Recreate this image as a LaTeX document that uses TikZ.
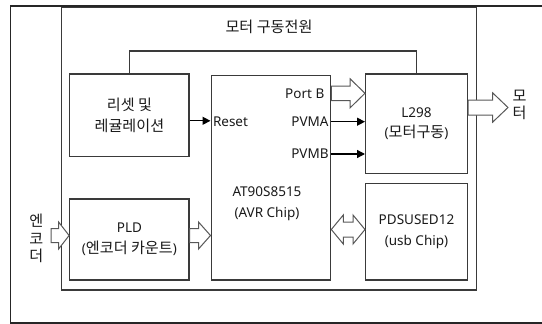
\documentclass[tikz,border=0pt]{standalone}
\usepackage{fontspec}
\setmainfont{Noto Sans}
\newfontfamily\kr[Scale=1.12]{Noto Sans CJK KR}
\usetikzlibrary{arrows.meta,calc}
\definecolor{ln}{HTML}{3A3A3A}
\definecolor{tx}{HTML}{1A1A1A}
\newcommand\rblock[5]{%
  \path[barrow] let \p1=(#1), \p2=(#2) in
  (\x1,{\y1-#3}) -- ({\x2-#5},{\y1-#3}) -- ({\x2-#5},{\y1-#4}) -- (\x2,\y1)
  -- ({\x2-#5},{\y1+#4}) -- ({\x2-#5},{\y1+#3}) -- (\x1,{\y1+#3}) -- cycle;}
\newcommand\dblock[5]{%
  \path[barrow] let \p1=(#1), \p2=(#2) in
  (\x1,\y1) -- ({\x1+#5},{\y1-#4}) -- ({\x1+#5},{\y1-#3}) -- ({\x2-#5},{\y1-#3})
  -- ({\x2-#5},{\y1-#4}) -- (\x2,\y1) -- ({\x2-#5},{\y1+#4}) -- ({\x2-#5},{\y1+#3})
  -- ({\x1+#5},{\y1+#3}) -- ({\x1+#5},{\y1+#4}) -- cycle;}
\begin{document}
\begin{tikzpicture}[x=1pt,y=-1pt,
  box/.style={draw=ln,line width=1.3pt,fill=white,inner sep=0pt,anchor=north west,
    text=tx,font=\fontsize{13.5}{20.5}\selectfont,align=center},
  txt/.style={text=tx,font=\fontsize{13.5}{20.5}\selectfont,inner sep=0pt,align=center},
  barrow/.style={draw=ln!85,line width=1pt,fill=white,line join=miter},
  wire/.style={draw=ln,line width=1.3pt},
  sig/.style={draw=black,line width=1.3pt,-{Triangle[length=8pt,width=8pt]}}
]
\useasboundingbox (0,0) rectangle (542,324);
\fill[white] (0,0) rectangle (542,324);
% outer frame (open to the right)
\draw[line width=1.8pt,draw=black!85] (545,6) -- (10.4,6) -- (10.4,322.7) -- (545,322.7);
% inner frame
\node[box,minimum width=414.6pt,minimum height=282.8pt] (frame) at (61,6.5) {};
\node[txt] (title) at (269,27) {\kr 모터 구동전원};
% boxes
\node[box,minimum width=119.3pt,minimum height=82.4pt] (rst) at (69.1,73.3) {\kr 리셋 및\\\kr 레귤레이션};
\node[box,minimum width=119.5pt,minimum height=204.3pt] (avr) at (210.5,75) {};
\node[box,minimum width=101.7pt,minimum height=99.4pt] (l298) at (365,73.3) {L298\\({\kr 모터구동})};
\node[box,minimum width=101.7pt,minimum height=96.6pt] (usb) at (365,182.7) {PDSUSED12\\(usb Chip)};
\node[box,minimum width=119.3pt,minimum height=81pt] (pld) at (69.1,198.3) {PLD\\({\kr 엔코더 카운트})};
\node[txt] (avrT) at (267,203.5) {AT90S8515\\(AVR Chip)};
% power wire
\draw[wire] (rst.north) -- (rst.north |- 0,51) -| (l298.north);
% signal labels
\node[txt,anchor=west] (resetL) at (212.8,121.3) {Reset};
\node[txt,anchor=east] (portbL) at (324.5,93.3) {Port B};
\node[txt,anchor=east] (pvmaL) at (328.8,121.7) {PVMA};
\node[txt,anchor=east] (pvmbL) at (328.8,154) {PVMB};
% thin arrows
\coordinate (ry) at (0,120.8);
\coordinate (ay) at (0,121.7);
\coordinate (by) at (0,154);
\draw[sig] (rst.east |- ry) -- (avr.west |- ry);
\draw[sig] (avr.east |- ay) -- (l298.west |- ay);
\draw[sig] (avr.east |- by) -- (l298.west |- by);
% block arrows
\coordinate (pby) at (0,93.3);
\coordinate (pbS) at (avr.east |- pby);
\coordinate (pbE) at (l298.west |- pby);
\rblock{pbS}{pbE}{7.3pt}{14.6pt}{15pt}
\coordinate (mS) at (l298.east |- 0,107.5);
\coordinate (mE) at (508,107.5);
\rblock{mS}{mE}{7.5pt}{14.7pt}{15.4pt}
\coordinate (eS) at (51,235.5);
\coordinate (eE) at (pld.west |- eS);
\rblock{eS}{eE}{7pt}{13.5pt}{10.5pt}
\coordinate (pS) at (pld.east |- eS);
\coordinate (pE) at (avr.west |- eS);
\rblock{pS}{pE}{7pt}{13.5pt}{12pt}
\coordinate (uS) at (avr.east |- 0,229.5);
\coordinate (uE) at (usb.west |- uS);
\dblock{uS}{uE}{7.5pt}{14.5pt}{12pt}
% side labels
\node[txt,font=\kr\fontsize{13.5}{17.8}\selectfont] (encL) at (36.3,238.5) {엔\\코\\더};
\node[txt,font=\kr\fontsize{13.5}{17}\selectfont] (motL) at (519.5,105) {모\\터};
\end{tikzpicture}
\end{document}
